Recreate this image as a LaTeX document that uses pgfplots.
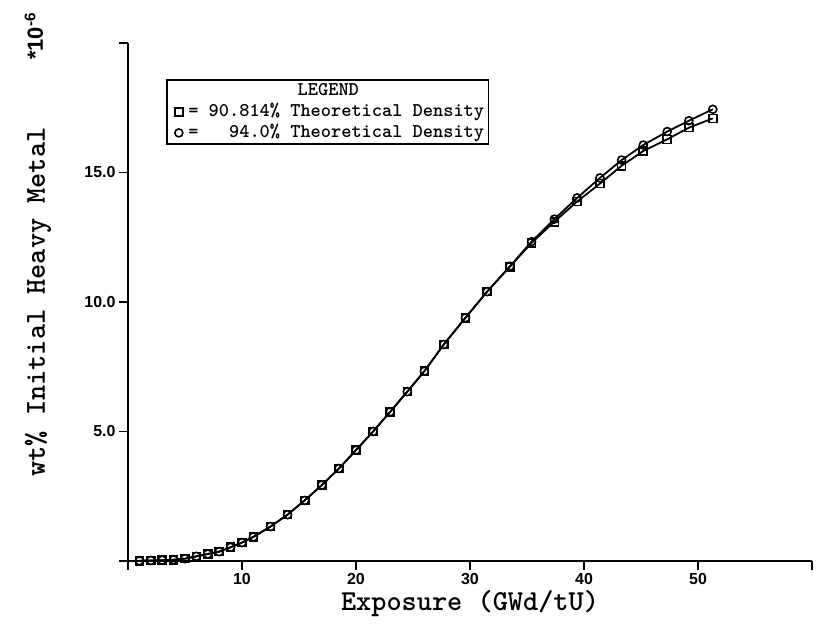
\documentclass[border=0pt]{standalone}
\usepackage{fontspec}
\setmainfont{Liberation Sans}
\usepackage{pgfplots}
\pgfplotsset{compat=1.18}
\pgfplotstableread{
x    sq     ci
1    0.01   0.01
2    0.02   0.02
3    0.03   0.03
4    0.05   0.05
5    0.09   0.09
6    0.18   0.18
7    0.27   0.27
8    0.36   0.36
9    0.53   0.53
10   0.71   0.71
11   0.93   0.93
12.5 1.33   1.33
14   1.79   1.79
15.5 2.34   2.34
17   2.93   2.93
18.5 3.57   3.57
20   4.28   4.28
21.5 5.00   5.00
23   5.76   5.76
24.5 6.54   6.54
26   7.33   7.33
27.7 8.36   8.36
29.6 9.39   9.39
31.5 10.40  10.40
33.5 11.36  11.38
35.4 12.28  12.33
37.4 13.10  13.20
39.4 13.88  14.02
41.4 14.57  14.79
43.3 15.26  15.48
45.2 15.83  16.06
47.3 16.28  16.58
49.2 16.73  17.00
51.3 17.09  17.44
}\datatable
\begin{document}
\begin{tikzpicture}
\begin{axis}[
  name=ax,
  scale only axis,
  width=684bp, height=518bp,
  xmin=0, xmax=60, ymin=0, ymax=20,
  clip=false,
  axis lines=left,
  axis line style={-, line width=1.6bp},
  tick align=outside,
  major tick length=9bp,
  tick style={line width=1.6bp, black},
  xtick={0,10,...,60},
  xticklabels={,10,20,30,40,50,},
  ytick={0,5,...,20},
  yticklabels={,5.0,10.0,15.0,},
  ticklabel style={font=\bfseries\fontsize{16}{16}\selectfont},
  xlabel={Exposure (GWd/tU)},
  ylabel={wt\% Initial Heavy Metal},
  label style={font=\ttfamily\bfseries\fontsize{29}{29}\selectfont},
  x label style={at={(axis description cs:0.5,-0.083)}, anchor=center},
  y label style={at={(axis description cs:-0.1316,0.5)}, anchor=center},
  legend style={at={(axis description cs:0.292,0.867)}, anchor=center,
    draw=black, line width=1.4bp,
    font=\ttfamily\bfseries\fontsize{19.5}{20}\selectfont,
    row sep=3bp, inner xsep=4bp, inner ysep=2bp,
    nodes={inner sep=0.5bp, text height=13bp, text depth=4bp}},
  legend cell align=left,
  legend image code/.code={\path[draw=none, fill=none] (0bp,0bp) -- (17bp,0bp);
    \draw[#1, only marks] plot coordinates {(8bp,0bp)};},
]
\addlegendimage{empty legend}
\addlegendentry{\hspace*{-10bp}\makebox[300bp][c]{LEGEND}}
\addplot[black, line width=1.8bp, mark=square, mark size=4bp,
  mark options={solid, line width=1.6bp, fill=white}] table[x=x, y=sq] {\datatable};
\addlegendentry{= 90.814\% Theoretical Density}
\addplot[black, line width=1.8bp, mark=o, mark size=4bp,
  mark options={solid, line width=1.6bp, fill=white}] table[x=x, y=ci] {\datatable};
\addlegendentry{= \phantom{00}94.0\% Theoretical Density}
\node[rotate=90, anchor=base west, font=\bfseries\fontsize{22}{22}\selectfont, inner sep=0pt]
  at (axis description cs:-0.1243,0.967) {*10\textsuperscript{-6}};
\end{axis}
\pgfresetboundingbox
\path ([shift={(-128bp,-66bp)}]ax.south west) rectangle ([shift={(5bp,43bp)}]ax.north east);
\end{tikzpicture}
\end{document}
